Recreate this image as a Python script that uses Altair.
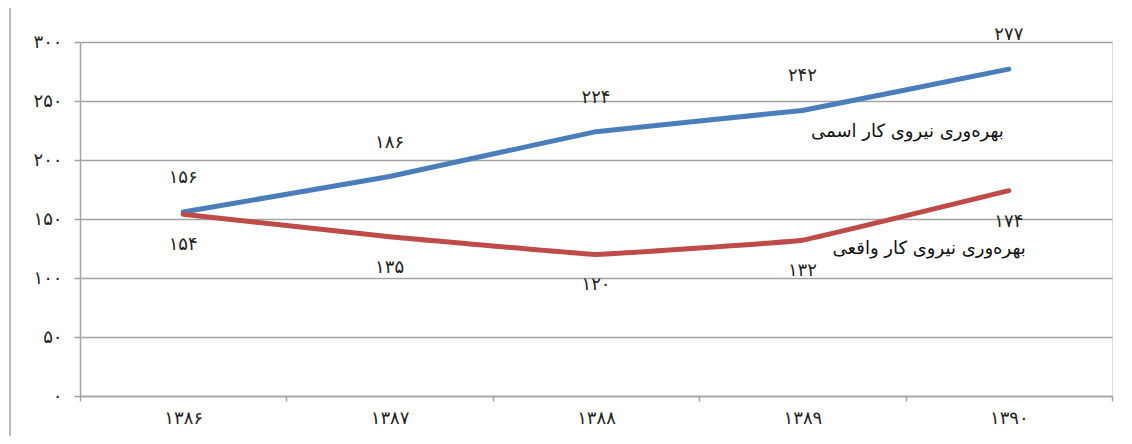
import altair as alt
import pandas as pd

years = ["۱۳۸۶", "۱۳۸۷", "۱۳۸۸", "۱۳۸۹", "۱۳۹۰"]
nominal = [156, 186, 224, 242, 277]
real = [154, 135, 120, 132, 174]
series_names = ["بهره‌وری نیروی کار اسمی", "بهره‌وری نیروی کار واقعی"]
colors = ["#4a7ebb", "#be4b48"]
y_ticks = [0, 50, 100, 150, 200, 250, 300]
y_tick_labels = ["۰", "۵۰", "۱۰۰", "۱۵۰", "۲۰۰", "۲۵۰", "۳۰۰"]

FONT = "DejaVu Sans"
GRID = "#a3a3a3"


def fa(n):
    return str(n).translate(str.maketrans("0123456789", "۰۱۲۳۴۵۶۷۸۹"))


df = pd.DataFrame({
    "year": years * 2,
    "value": nominal + real,
    "series": [series_names[0]] * len(years) + [series_names[1]] * len(years),
    "label": [fa(v) for v in nominal + real],
})

label_expr = ""
for v, t in zip(y_ticks, y_tick_labels):
    label_expr += f"datum.value == {v} ? '{t}' : "
label_expr += "''"

x_enc = alt.X(
    "year:N", sort=years,
    scale=alt.Scale(type="band", paddingInner=0, paddingOuter=0),
    axis=alt.Axis(title=None, labelAngle=0, tickBand="extent", grid=False,
                  domainColor=GRID, domainWidth=1.5, tickColor=GRID, tickWidth=1.5,
                  tickSize=5, labelFontSize=18, labelPadding=8, labelFont=FONT,
                  labelColor="#222222"),
)
y_enc = alt.Y(
    "value:Q", scale=alt.Scale(domain=[0, 300], nice=False),
    axis=alt.Axis(title=None, values=y_ticks, labelExpr=label_expr, grid=True,
                  gridColor=GRID, gridWidth=1.5, domainColor=GRID, domainWidth=1.5,
                  tickColor=GRID, tickWidth=1.5, tickSize=6, labelPadding=12,
                  labelFontSize=18, labelFont=FONT, labelColor="#222222"),
)
color_enc = alt.Color("series:N", scale=alt.Scale(domain=series_names, range=colors), legend=None)

base = alt.Chart(df)

lines = base.mark_line(strokeWidth=5, interpolate="cardinal", tension=0.85,
                       strokeCap="round", strokeJoin="round").encode(
    x=x_enc, y=y_enc, color=color_enc
)

top_labels = base.transform_filter(alt.datum.series == series_names[0]).mark_text(
    dy=-34, fontSize=18, font=FONT, color="#222222"
).encode(x=alt.X("year:N", sort=years), y="value:Q", text="label:N")

bot_labels = base.transform_filter(alt.datum.series == series_names[1]).mark_text(
    dy=31, fontSize=18, font=FONT, color="#222222"
).encode(x=alt.X("year:N", sort=years), y="value:Q", text="label:N")

name_df = pd.DataFrame({
    "year": [years[-1], years[-1]],
    "value": [224, 125],
    "name": series_names,
})
name_top = alt.Chart(name_df).transform_filter(alt.datum.name == series_names[0]).mark_text(
    align="right", dx=-5, fontSize=18, font=FONT, color="#111111"
).encode(x=alt.X("year:N", sort=years), y="value:Q", text="name:N")
name_bot = alt.Chart(name_df).transform_filter(alt.datum.name == series_names[1]).mark_text(
    align="right", dx=17, fontSize=18, font=FONT, color="#111111"
).encode(x=alt.X("year:N", sort=years), y="value:Q", text="name:N")

frame = alt.Chart(alt.Data(values=[{}])).mark_rule(color=GRID, strokeWidth=1.5).encode(
    x=alt.value(-70), y=alt.value(-42), y2=alt.value(402)
)

chart = alt.layer(frame, lines, top_labels, bot_labels, name_top, name_bot).properties(
    width=1032, height=354,
    autosize=alt.AutoSizeParams(type="none"),
    padding={"left": 72, "top": 34, "right": 12, "bottom": 40},
).configure_view(stroke=None).configure(background="white")

chart.save("out.html", embed_options={"renderer": "svg", "actions": False})
